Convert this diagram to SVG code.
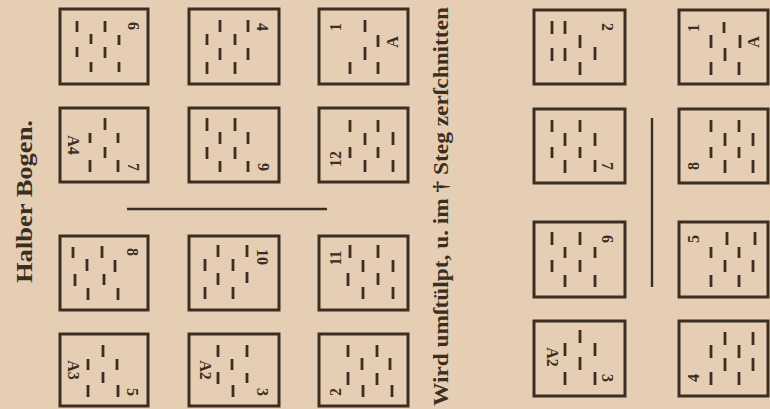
<svg xmlns="http://www.w3.org/2000/svg" width="770" height="409" viewBox="0 0 770 409">
<style>
.bg{fill:#e6ceb4}
.box{fill:none;stroke:#3a2e22;stroke-width:3}
.dash{fill:none;stroke:#3a2e22;stroke-width:2.8}
.rule{fill:none;stroke:#3a2e22;stroke-width:2.4}
.lbl{font-family:"Liberation Serif","DejaVu Serif",serif;font-weight:bold;font-size:16px;fill:#3a2e22;text-anchor:middle;dominant-baseline:central}
.title{font-family:"Liberation Serif","DejaVu Serif",serif;font-weight:bold;fill:#3a2e22}
</style>
<rect class="bg" x="0" y="0" width="770" height="409"/>

<text class="title" font-size="24" transform="translate(32,283) rotate(-90)" textLength="163" lengthAdjust="spacingAndGlyphs">Halber Bogen.</text>
<text class="title" font-size="20" transform="translate(448,406) rotate(-90)" textLength="399" lengthAdjust="spacingAndGlyphs">Wird umſtülpt, u. im † Steg zerſchnitten</text>

<g id="rules">
<path class="rule" d="M127 209 H327"/>
<path class="rule" d="M652 118 V287"/>
</g>

<g id="p6">
<rect class="box" x="60" y="9" width="88" height="75"/>
<path class="dash" d="M77 21V32M77 47V57M91 34V44M91 62V72M105 21V32M105 47V58M119 35V45M119 62V72"/>
<text class="lbl" transform="translate(133,26) rotate(90)">6</text>
</g>
<g id="p7">
<rect class="box" x="60" y="108" width="88" height="74"/>
<path class="dash" d="M105 118V130M90 133V143M118 133V143M105 147V158M90 160V172M118 160V172"/>
<text class="lbl" transform="translate(73,145) rotate(90)">A4</text>
<text class="lbl" transform="translate(133,167) rotate(90)">7</text>
</g>
<g id="p8">
<rect class="box" x="60" y="236" width="88" height="74"/>
<path class="dash" d="M73 247V258M102 246V258M87 259V271M115 260V272M75 274V286M104 274V285M88 288V300M118 288V300"/>
<text class="lbl" transform="translate(132,252) rotate(90)">8</text>
</g>
<g id="p5">
<rect class="box" x="60" y="334" width="88" height="72"/>
<path class="dash" d="M103 345V357M88 359V370M117 359V370M103 372V383M88 385V397M118 385V397"/>
<text class="lbl" transform="translate(73,370) rotate(90)">A3</text>
<text class="lbl" transform="translate(132,392) rotate(90)">5</text>
</g>

<g id="p4">
<rect class="box" x="189" y="9" width="90" height="75"/>
<path class="dash" d="M220 20V32M248 20V32M207 34V45M235 34V45M220 48V60M248 48V60M207 62V74M235 62V74"/>
<text class="lbl" transform="translate(262,27) rotate(90)">4</text>
</g>
<g id="p9">
<rect class="box" x="189" y="108" width="90" height="74"/>
<path class="dash" d="M207 118V131M235 118V131M220 132V144M248 132V144M207 147V159M235 147V159M220 161V172M248 161V172"/>
<text class="lbl" transform="translate(263,167) rotate(90)">9</text>
</g>
<g id="p10">
<rect class="box" x="189" y="236" width="90" height="74"/>
<path class="dash" d="M218 245V257M247 245V257M205 259V271M233 259V271M218 273V285M247 272V283M205 287V299M233 287V299"/>
<text class="lbl" transform="translate(262,257) rotate(90)">10</text>
</g>
<g id="p3">
<rect class="box" x="189" y="334" width="90" height="72"/>
<path class="dash" d="M218 345V357M247 345V357M232 359V370M218 372V384M247 373V383M233 385V397"/>
<text class="lbl" transform="translate(205,370) rotate(90)">A2</text>
<text class="lbl" transform="translate(262,392) rotate(90)">3</text>
</g>

<g id="p1">
<rect class="box" x="319" y="9" width="89" height="75"/>
<path class="dash" d="M365 20V32M378 35V47M365 47V60M350 62V74M378 62V74"/>
<text class="lbl" transform="translate(335,27) rotate(-90)">1</text>
<text class="lbl" transform="translate(392,42) rotate(-90)">A</text>
</g>
<g id="p12">
<rect class="box" x="319" y="108" width="89" height="74"/>
<path class="dash" d="M350 120V132M378 120V132M365 133V145M393 132V145M350 147V158M378 147V158M365 160V172M393 160V172"/>
<text class="lbl" transform="translate(335,159) rotate(-90)">12</text>
</g>
<g id="p11">
<rect class="box" x="319" y="236" width="89" height="74"/>
<path class="dash" d="M350 245V258M378 245V258M363 260V272M393 260V272M348 273V286M378 273V285M363 287V299M393 287V299"/>
<text class="lbl" transform="translate(335,258) rotate(-90)">11</text>
</g>
<g id="p2">
<rect class="box" x="319" y="334" width="89" height="72"/>
<path class="dash" d="M348 345V357M377 345V357M362 358V370M390 358V370M348 372V385M377 373V385M363 385V397M392 385V397"/>
<text class="lbl" transform="translate(335,392) rotate(-90)">2</text>
</g>

<g id="q2">
<rect class="box" x="534" y="10" width="91" height="74"/>
<path class="dash" d="M552 21V34M565 21V34M580 35V48M595 47V60M552 48V61M565 48V61M580 62V75"/>
<text class="lbl" transform="translate(607,27) rotate(90)">2</text>
</g>
<g id="q7">
<rect class="box" x="534" y="109" width="91" height="74"/>
<path class="dash" d="M552 120V132M580 120V132M565 133V146M595 133V146M552 147V158M580 147V158M565 160V173M595 160V172"/>
<text class="lbl" transform="translate(607,166) rotate(90)">7</text>
</g>
<g id="q6">
<rect class="box" x="534" y="222" width="91" height="75"/>
<path class="dash" d="M552 232V245M580 232V245M565 247V258M595 247V258M552 260V272M580 260V272M565 275V287M595 275V287"/>
<text class="lbl" transform="translate(607,239) rotate(90)">6</text>
</g>
<g id="q3">
<rect class="box" x="534" y="321" width="91" height="75"/>
<path class="dash" d="M580 330V343M565 343V356M595 343V356M580 357V370M565 372V385M595 372V385"/>
<text class="lbl" transform="translate(552,357) rotate(90)">A2</text>
<text class="lbl" transform="translate(607,378) rotate(90)">3</text>
</g>

<g id="q1">
<rect class="box" x="679" y="10" width="89" height="74"/>
<path class="dash" d="M724 22V33M711 35V48M740 35V48M725 48V61M711 62V75M739 62V75"/>
<text class="lbl" transform="translate(693,28) rotate(-90)">1</text>
<text class="lbl" transform="translate(753,42) rotate(-90)">A</text>
</g>
<g id="q8">
<rect class="box" x="679" y="109" width="89" height="74"/>
<path class="dash" d="M711 120V132M739 120V132M725 133V146M753 133V146M711 147V158M739 147V158M725 160V173M753 160V173"/>
<text class="lbl" transform="translate(693,166) rotate(-90)">8</text>
</g>
<g id="q5">
<rect class="box" x="679" y="222" width="89" height="75"/>
<path class="dash" d="M727 232V245M755 232V245M711 247V258M739 247V258M725 260V272M753 260V272M711 275V287M739 275V287"/>
<text class="lbl" transform="translate(693,239) rotate(-90)">5</text>
</g>
<g id="q4">
<rect class="box" x="679" y="321" width="89" height="75"/>
<path class="dash" d="M725 332V345M753 332V345M711 345V358M739 345V358M725 358V371M753 358V371M711 372V385M739 372V385"/>
<text class="lbl" transform="translate(693,378) rotate(-90)">4</text>
</g>
</svg>
